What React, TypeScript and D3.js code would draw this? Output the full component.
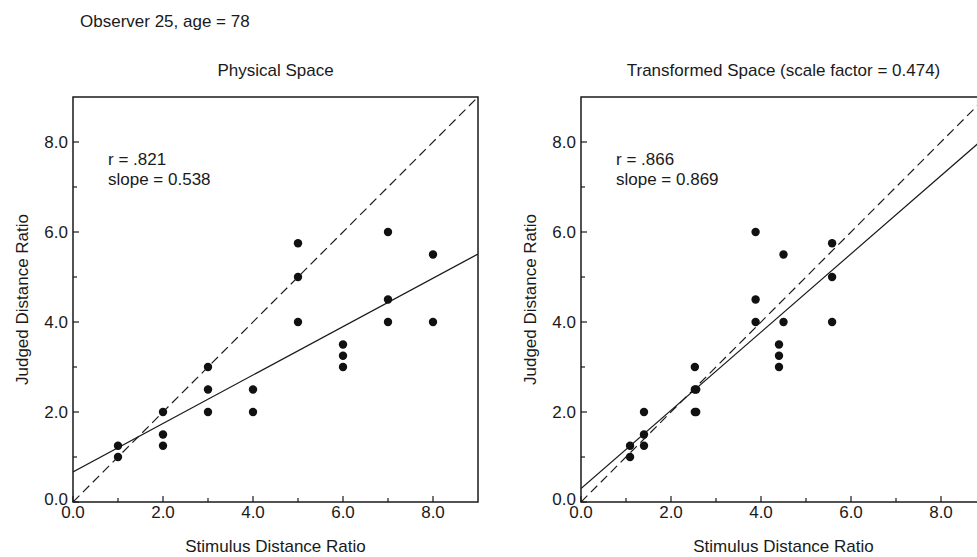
import React from "react";
import * as d3 from "d3";

// Observer 25: each judged point with its physical stimulus ratio and its
// ratio after the space transformation.
const stimulusRatio = [1, 1, 2, 2, 2, 3, 3, 3, 4, 4, 5, 5, 5, 6, 6, 6, 7, 7, 7, 8, 8];
const judgedRatio = [1.25, 1.0, 2.0, 1.5, 1.25, 3.0, 2.5, 2.0, 2.5, 2.0, 5.75, 5.0, 4.0, 3.5, 3.25, 3.0, 6.0, 4.5, 4.0, 5.5, 4.0];
const transformedRatio = [1.09, 1.09, 1.4, 1.4, 1.4, 2.53, 2.53, 2.53, 2.56, 2.56, 5.58, 5.58, 5.58, 4.4, 4.4, 4.4, 3.88, 3.88, 3.88, 4.5, 4.5];

const panelTitles = ["Physical Space", "Transformed Space (scale factor = 0.474)"];
const correlations = [".821", ".866"];
const slopes = [0.538, 0.869];
const intercepts = [0.67, 0.3];

const majorTicks = [0, 2, 4, 6, 8];
const minorTicks = [1, 3, 5, 7];
const axisMax = 9;

const W = 977;
const H = 557;
const FONT = "'Liberation Sans', Arial, Helvetica, sans-serif";
const INK = "#1a1a1a";

const plotSize = 405;
const plotTop = 97;
const panelLefts = [73, 581];

type PanelProps = {
  index: number;
  xs: number[];
};

function Panel({ index, xs }: PanelProps) {
  const left = panelLefts[index];
  const x = d3.scaleLinear().domain([0, axisMax]).range([left, left + plotSize]);
  const y = d3.scaleLinear().domain([0, axisMax]).range([plotTop + plotSize, plotTop]);
  const clipId = `plot-clip-${index}`;
  const slope = slopes[index];
  const intercept = intercepts[index];

  const line = d3
    .line<number>()
    .x((d) => x(d))
    .y((d) => y(intercept + slope * d));
  const identity = d3
    .line<number>()
    .x((d) => x(d))
    .y((d) => y(d));

  const fmt = d3.format(".1f");
  const bottom = y(0);

  return (
    <g>
      <defs>
        <clipPath id={clipId}>
          <rect x={x(0)} y={y(axisMax)} width={plotSize} height={plotSize} />
        </clipPath>
      </defs>

      <text x={(x(0) + x(axisMax)) / 2} y={76} textAnchor="middle" fontSize={17} fill={INK}>
        {panelTitles[index]}
      </text>

      <g clipPath={`url(#${clipId})`}>
        <path d={identity([0, axisMax]) ?? ""} fill="none" stroke={INK} strokeWidth={1.2} strokeDasharray="9,5" />
        <path d={line([0, axisMax]) ?? ""} fill="none" stroke={INK} strokeWidth={1.2} />
        {xs.map((xv, i) => (
          <circle key={i} cx={x(xv)} cy={y(judgedRatio[i])} r={4.2} fill="#111" />
        ))}
      </g>

      <rect x={x(0)} y={y(axisMax)} width={plotSize} height={plotSize} fill="none" stroke={INK} strokeWidth={1.5} />

      {majorTicks.map((t) => (
        <g key={`mx${t}`}>
          <line x1={x(t)} x2={x(t)} y1={bottom} y2={bottom - 6} stroke={INK} strokeWidth={1.2} />
          <text x={x(t)} y={518} textAnchor="middle" fontSize={17} fill={INK}>
            {fmt(t)}
          </text>
          <line x1={x(0)} x2={x(0) + 6} y1={y(t)} y2={y(t)} stroke={INK} strokeWidth={1.2} />
          <text x={x(0) - 5} y={y(t) - (t === 0 ? 3 : 0)} dy="0.35em" textAnchor="end" fontSize={17} fill={INK}>
            {fmt(t)}
          </text>
        </g>
      ))}
      {minorTicks.map((t) => (
        <g key={`mn${t}`}>
          <line x1={x(t)} x2={x(t)} y1={bottom} y2={bottom - 4} stroke={INK} strokeWidth={1.2} />
          <line x1={x(0)} x2={x(0) + 4} y1={y(t)} y2={y(t)} stroke={INK} strokeWidth={1.2} />
        </g>
      ))}

      <text x={x(0) + 35} y={165} fontSize={17} fill={INK}>
        {`r = ${correlations[index]}`}
      </text>
      <text x={x(0) + 35} y={185} fontSize={17} fill={INK}>
        {`slope = ${slope.toFixed(3)}`}
      </text>

      <text x={(x(0) + x(axisMax)) / 2} y={552} textAnchor="middle" fontSize={17} fill={INK}>
        Stimulus Distance Ratio
      </text>
      <text
        transform={`translate(${x(0) - 45},${(y(0) + y(axisMax)) / 2}) rotate(-90)`}
        textAnchor="middle"
        fontSize={17}
        fill={INK}
      >
        Judged Distance Ratio
      </text>
    </g>
  );
}

export default function App() {
  return (
    <svg
      width={W}
      height={H}
      style={{ position: "absolute", left: 0, top: 0, background: "#fff", fontFamily: FONT }}
    >
      <rect width={W} height={H} fill="#fff" />
      <text x={80} y={27} fontSize={17} fill={INK}>
        Observer 25, age = 78
      </text>
      <Panel index={0} xs={stimulusRatio} />
      <Panel index={1} xs={transformedRatio} />
    </svg>
  );
}
